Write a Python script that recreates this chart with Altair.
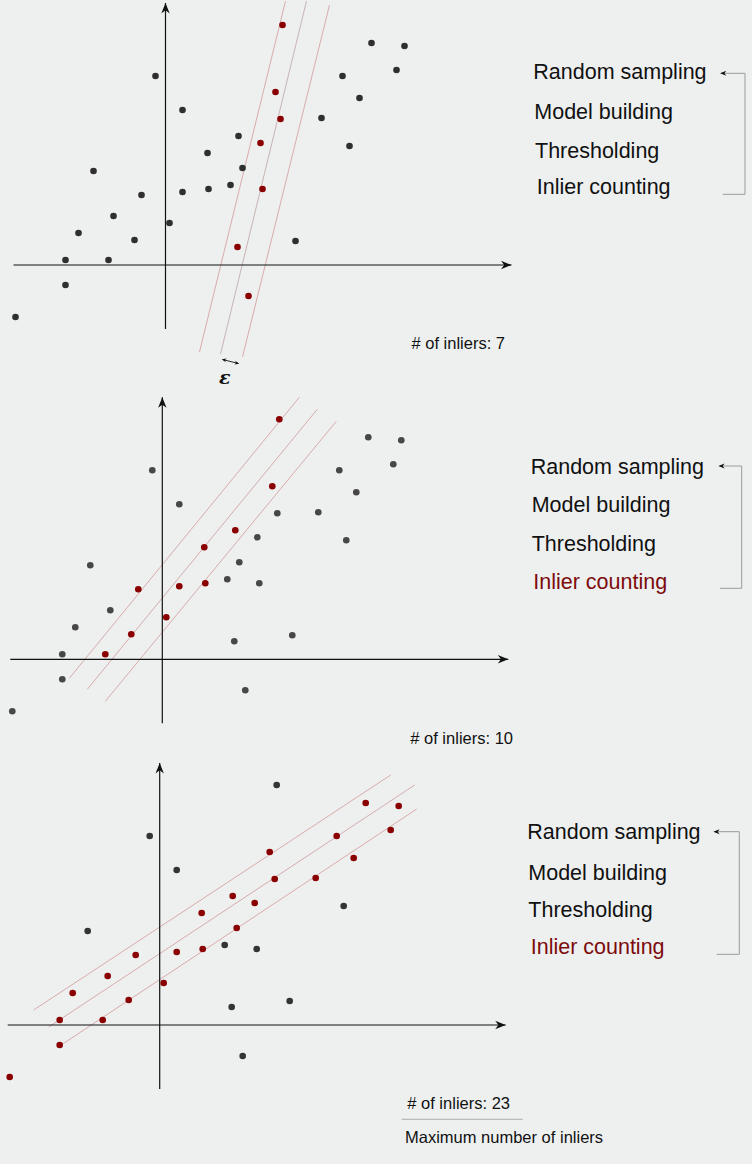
import altair as alt
import pandas as pd

# ---------------- data (axis units, origin at the axes crossing) ----------------
pt_x = [-15.0, -10.0, -10.0, -8.7, -7.2, -5.7, -5.2, -3.1, -2.4, -1.0, 0.4, 1.7, 1.7,
        4.2, 4.3, 6.5, 7.2, 7.3, 7.7, 8.3, 9.5, 9.7, 11.0, 11.5, 11.7, 13.0, 15.6,
        17.7, 18.4, 19.4, 20.6, 23.1, 23.9]
pt_y = [-5.2, -2.0, 0.5, 3.2, 9.4, 0.5, 4.9, 2.5, 7.0, 18.9, 4.2, 15.5, 7.3,
        11.2, 7.6, 8.0, 1.8, 12.9, 9.7, -3.1, 12.2, 7.6, 17.3, 14.6, 24.0, 2.4, 14.7,
        18.9, 11.9, 16.7, 22.2, 19.5, 21.9]

inlier_1 = [0, 0, 0, 0, 0, 0, 0, 0, 0, 0, 0, 0, 0, 0, 0, 0, 1, 0, 0, 1, 1, 1, 1, 1, 1, 0, 0, 0, 0, 0, 0, 0, 0]
inlier_2 = [0, 0, 0, 0, 0, 1, 0, 1, 1, 0, 1, 0, 1, 1, 1, 0, 0, 1, 0, 0, 0, 0, 1, 0, 1, 0, 0, 0, 0, 0, 0, 0, 0]
inlier_3 = [1, 1, 1, 1, 0, 1, 1, 1, 1, 0, 1, 0, 1, 1, 1, 0, 0, 1, 1, 0, 1, 0, 1, 1, 0, 0, 1, 1, 0, 1, 1, 1, 1]

# model line and the two threshold lines (start x, start y, end x, end y)
band_role = ["edge", "model", "edge"]
band1_x = [12.0, 14.1, 16.4]
band1_y = [26.4, 26.4, 26.0]
band1_x2 = [3.4, 5.5, 7.7]
band1_y2 = [-8.7, -8.9, -9.2]

band2_x = [-9.3, -7.5, -5.7]
band2_y = [-1.9, -3.0, -4.2]
band2_x2 = [13.7, 15.5, 17.4]
band2_y2 = [26.2, 25.0, 23.8]

band3_x = [-12.6, -11.1, -9.7]
band3_y = [1.5, -0.2, -1.9]
band3_x2 = [23.1, 25.5, 25.7]
band3_y2 = [25.0, 24.0, 21.6]

steps = ["Random sampling", "Model building", "Thresholding", "Inlier counting"]
highlight = [None, "Inlier counting", "Inlier counting"]

AXIS_X = [-15.2, 34.6]
AXIS_Y = [-6.4, 26.2]

# ---------------- layout ----------------
W = 752
PANEL_H = [388, 362, 414]
ORIGIN = [(165.5, 264.0), (162.3, 270.3), (159.7, 274.0)]
UNIT = 10.0  # pixels per axis unit

BG = "#eef0f0"
INK = "#111111"
RED = "#8a0000"
RED_TEXT = "#7d0b0b"
GRAY_PT = ["#2f2f2f", "#474747", "#343434"]
BAND = "#d6a3a3"
BAND_MID = ["#c4acac", "#d3a3a3", "#d3a3a3"]
FONT = "Liberation Sans"

STEP_POS = [
    [(533.3, 72), (534.3, 112), (535, 151), (536.7, 187)],
    [(530.7, 78.7), (531.7, 117), (531.7, 156.3), (533.3, 194.3)],
    [(527.3, 82.3), (528.3, 122.7), (528.3, 160), (530.7, 196.7)],
]
# bracket: arrow tip (x, y), right x, bottom y, bottom-left x
BRACKET = [
    (720, 72.3, 745, 193.3, 722.7),
    (718.3, 77, 741.7, 199.3, 720),
    (713.3, 80.7, 739.3, 203.3, 716.7),
]
COUNT_POS = [(505, 343), (513, 350.3), (510, 353.3)]

RIGHT_HEAD = "M0,0L-2,-0.8L-1.4,0L-2,0.8Z"
LEFT_HEAD = "M0,0L2,-0.8L1.4,0L2,0.8Z"
UP_HEAD = "M0,0L-0.8,2L0,1.4L0.8,2Z"

one = pd.DataFrame({"a": [0]})


def panel(i, inliers, bx, by, bx2, by2):
    ox, oy = ORIGIN[i]
    h = PANEL_H[i]
    xs = alt.Scale(domain=[-ox / UNIT, (W - ox) / UNIT], nice=False, zero=False)
    ys = alt.Scale(domain=[(oy - h) / UNIT, oy / UNIT], nice=False, zero=False)

    pts = pd.DataFrame({"x": pt_x, "y": pt_y, "inlier": inliers})
    bands = pd.DataFrame({"x": bx, "y": by, "x2": bx2, "y2": by2, "role": band_role})

    layers = []
    # threshold band
    layers.append(
        alt.Chart(bands).mark_rule(strokeWidth=0.9).encode(
            x=alt.X("x:Q", scale=xs, axis=None),
            y=alt.Y("y:Q", scale=ys, axis=None),
            x2="x2:Q", y2="y2:Q",
            color=alt.condition(alt.datum.role == "model", alt.value(BAND_MID[i]), alt.value(BAND)),
        )
    )
    # axes
    layers.append(alt.Chart(one).mark_rule(color=INK, strokeWidth=1.2).encode(
        x=alt.X(datum=AXIS_X[0], scale=xs, axis=None), x2=alt.datum(AXIS_X[1]),
        y=alt.Y(datum=0, scale=ys, axis=None)))
    layers.append(alt.Chart(one).mark_rule(color=INK, strokeWidth=1.2).encode(
        x=alt.X(datum=0, scale=xs, axis=None),
        y=alt.Y(datum=AXIS_Y[0], scale=ys, axis=None), y2=alt.datum(AXIS_Y[1])))
    layers.append(alt.Chart(one).mark_point(shape=RIGHT_HEAD, filled=True, size=110, color=INK, opacity=1).encode(
        x=alt.X(datum=AXIS_X[1], scale=xs, axis=None), y=alt.Y(datum=0, scale=ys, axis=None)))
    layers.append(alt.Chart(one).mark_point(shape=UP_HEAD, filled=True, size=110, color=INK, opacity=1).encode(
        x=alt.X(datum=0, scale=xs, axis=None), y=alt.Y(datum=AXIS_Y[1], scale=ys, axis=None)))
    # points
    layers.append(
        alt.Chart(pts).mark_circle(size=44, opacity=1).encode(
            x=alt.X("x:Q", scale=xs, axis=None),
            y=alt.Y("y:Q", scale=ys, axis=None),
            color=alt.condition(alt.datum.inlier == 1, alt.value(RED), alt.value(GRAY_PT[i])),
        )
    )
    # process steps
    for k, step in enumerate(steps):
        sx, sy = STEP_POS[i][k]
        col = RED_TEXT if highlight[i] == step else INK
        layers.append(alt.Chart(one).mark_text(align="left", baseline="middle", font=FONT,
                                               fontSize=21.5, color=col).encode(
            x=alt.value(sx), y=alt.value(sy), text=alt.value(step)))
    # loop bracket
    tx, ty, rx, by_, lx = BRACKET[i]
    br = "#9a9a9a"
    layers.append(alt.Chart(one).mark_rule(color=br, strokeWidth=1).encode(
        x=alt.value(tx + 3), x2=alt.value(rx), y=alt.value(ty), y2=alt.value(ty)))
    layers.append(alt.Chart(one).mark_rule(color=br, strokeWidth=1).encode(
        x=alt.value(rx), x2=alt.value(rx), y=alt.value(ty), y2=alt.value(by_)))
    layers.append(alt.Chart(one).mark_rule(color=br, strokeWidth=1).encode(
        x=alt.value(lx), x2=alt.value(rx), y=alt.value(by_), y2=alt.value(by_)))
    layers.append(alt.Chart(one).mark_point(shape=LEFT_HEAD, filled=True, size=40, color=INK, opacity=1).encode(
        x=alt.value(tx), y=alt.value(ty)))
    # inlier count
    cx, cy = COUNT_POS[i]
    layers.append(alt.Chart(one).mark_text(align="right", baseline="middle", font=FONT,
                                           fontSize=16.5, color=INK).encode(
        x=alt.value(cx), y=alt.value(cy), text=alt.value(f"# of inliers: {sum(inliers)}")))

    if i == 0:
        # epsilon marker
        layers.append(alt.Chart(one).mark_rule(color=INK, strokeWidth=0.9).encode(
            x=alt.value(223), x2=alt.value(238), y=alt.value(358.6), y2=alt.value(362.4)))
        layers.append(alt.Chart(one).mark_point(shape=LEFT_HEAD, filled=True, size=22, color=INK,
                                                opacity=1, angle=14).encode(
            x=alt.value(221.7), y=alt.value(358.3)))
        layers.append(alt.Chart(one).mark_point(shape=RIGHT_HEAD, filled=True, size=22, color=INK,
                                                opacity=1, angle=14).encode(
            x=alt.value(239.3), y=alt.value(362.7)))
        layers.append(alt.Chart(one).mark_text(align="center", baseline="middle", font="DejaVu Serif",
                                               fontStyle="italic", fontWeight="bold", fontSize=19,
                                               color=INK).encode(
            x=alt.value(224.7), y=alt.value(376.5), text=alt.value("ε")))
    if i == 2:
        layers.append(alt.Chart(one).mark_rule(color="#9a9a9a", strokeWidth=0.8).encode(
            x=alt.value(401.7), x2=alt.value(522.7), y=alt.value(368.3), y2=alt.value(368.3)))
        layers.append(alt.Chart(one).mark_text(align="left", baseline="middle", font=FONT,
                                               fontSize=16.5, color=INK).encode(
            x=alt.value(405), y=alt.value(386.7), text=alt.value("Maximum number of inliers")))

    return alt.layer(*layers).properties(width=W, height=h)


p1 = panel(0, inlier_1, band1_x, band1_y, band1_x2, band1_y2)
p2 = panel(1, inlier_2, band2_x, band2_y, band2_x2, band2_y2)
p3 = panel(2, inlier_3, band3_x, band3_y, band3_x2, band3_y2)

chart = alt.vconcat(p1, p2, p3, spacing=0, bounds="flush").properties(
    padding=0, background=BG
).configure_view(stroke=None)

chart.save("out.html", embed_options={"renderer": "svg", "actions": False})
